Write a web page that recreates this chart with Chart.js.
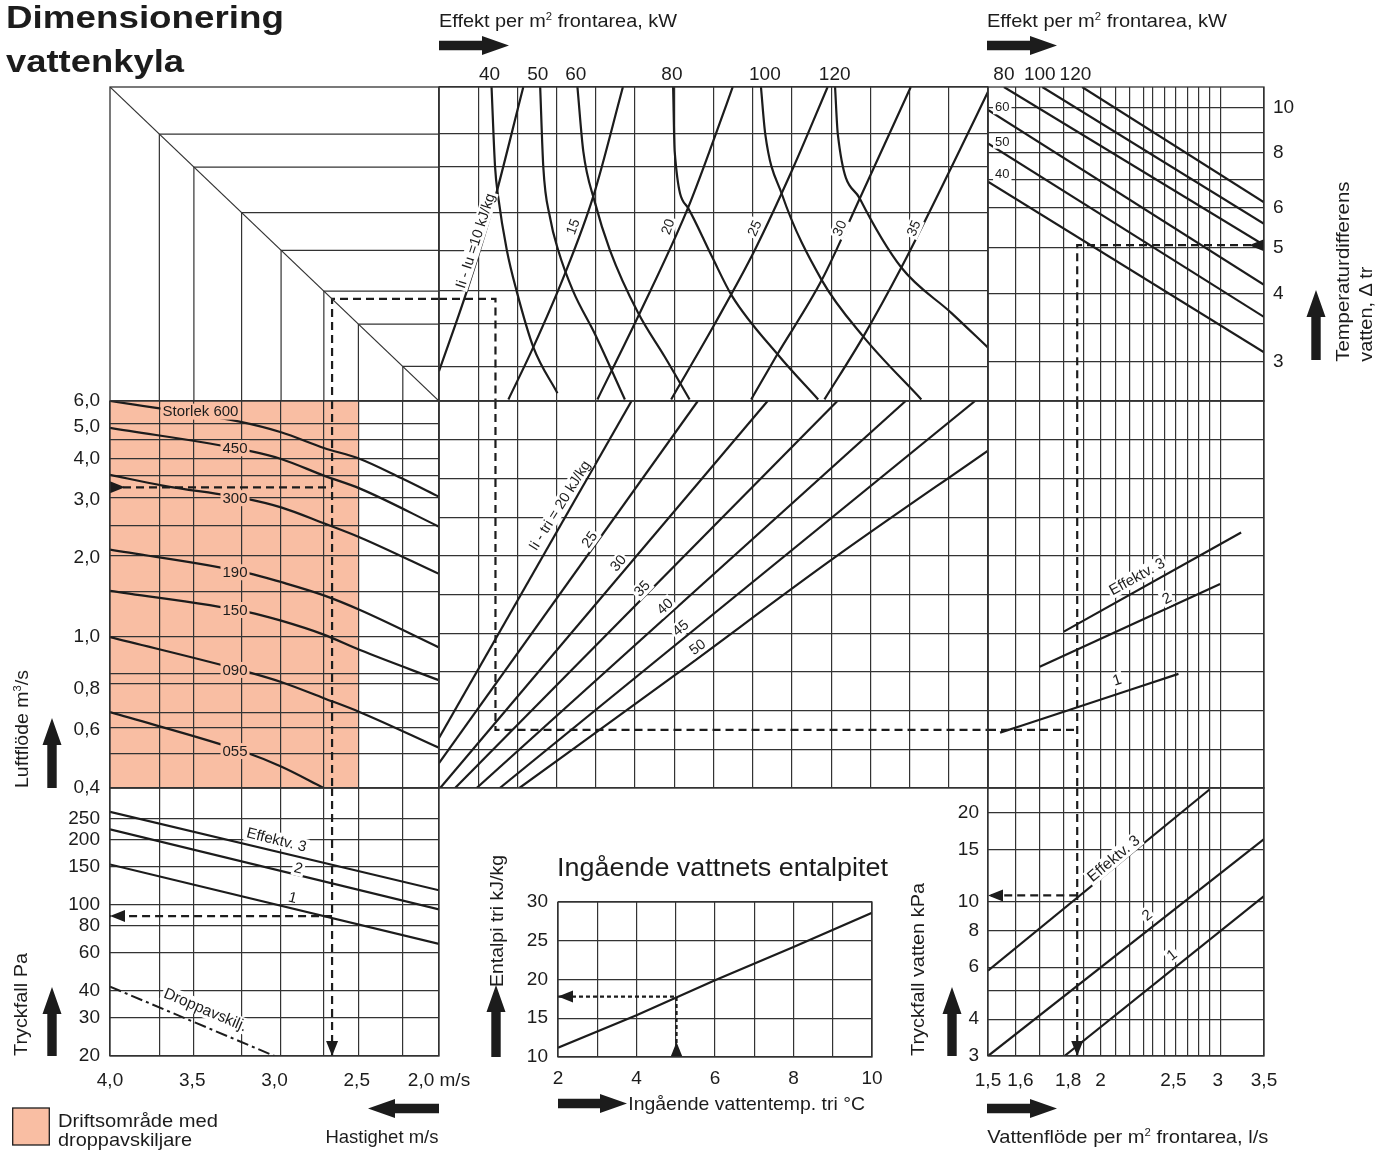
<!DOCTYPE html>
<html lang="sv">
<head>
<meta charset="utf-8">
<title>Dimensionering vattenkyla</title>
<script src="https://cdn.jsdelivr.net/npm/chart.js@4"></script>
<style>
  html, body { margin: 0; padding: 0; background: #fff; }
  #page { position: relative; width: 1387px; height: 1151px; overflow: hidden; }
  #page canvas, #page svg { position: absolute; }
</style>
</head>
<body>
<div id="page"></div>
<script>
const INK = '#1c1c1c';
const GRID = '#333333';
const SALMON = '#f9bea3';
const FONT = "'Liberation Sans', Arial, Helvetica, sans-serif";
const TICK_FONT = { family: FONT, size: 19 };
Chart.defaults.font.family = FONT;
Chart.defaults.color = INK;

// ---- values ----

// velocity m/s: left column, and (through the 45 degree triangle) the top band
const velocityGrid = [4.0, 3.70, 3.49, 3.20, 2.96, 2.70, 2.49, 2.22, 2.0];
const velocityTicks = [4.0, 3.5, 3.0, 2.5, 2.0];
const velocityLabels = ['4,0', '3,5', '3,0', '2,5', '2,0 m/s'];

// air flow m3/s per unit size
const airFlowGrid = [0.4, 0.51, 0.61, 0.68, 0.83, 0.89, 1.15, 1.58, 2.03, 2.51, 3.06, 3.56, 4.0, 4.58, 5.11, 6.0];
const airFlowTicks = [0.4, 0.6, 0.8, 1.15, 2.0, 3.0, 4.0, 5.0, 6.0]; // printed "1,0" sits on the 1.15 line
const airFlowLabels = ['0,4', '0,6', '0,8', '1,0', '2,0', '3,0', '4,0', '5,0', '6,0'];
const operatingRange = [4.0, 2.49]; // shaded: Driftsområde med droppavskiljare

const size600 = [[4.0, 6.0], [3.22, 5.2], [2.96, 4.82], [2.70, 4.32], [2.48, 4.0], [2.23, 3.5], [2.0, 3.07]];
const size450 = [[4.0, 4.97], [3.16, 4.24], [2.96, 4.0], [2.70, 3.56], [2.48, 3.25], [2.0, 2.49]];
const size300 = [[4.0, 3.58], [3.68, 3.32], [3.16, 3.02], [2.96, 2.85], [2.70, 2.55], [2.48, 2.31], [2.0, 1.79]];
const size190 = [[4.0, 2.12], [3.16, 1.80], [2.96, 1.69], [2.70, 1.54], [2.48, 1.39], [2.0, 1.07]];
const size150 = [[4.0, 1.59], [3.16, 1.37], [2.96, 1.29], [2.70, 1.17], [2.48, 1.05], [2.0, 0.85]];
const size090 = [[4.0, 1.15], [3.16, 0.90], [2.96, 0.84], [2.70, 0.75], [2.48, 0.68], [2.0, 0.53]];
const size055 = [[4.0, 0.68], [3.16, 0.51], [2.96, 0.465], [2.70, 0.40]];
const sizeNames = ['Storlek 600', '450', '300', '190', '150', '090', '055'];
const sizeLabelAt = [[3.45, 5.57], [3.24, 4.31], [3.24, 3.04], [3.24, 1.81], [3.24, 1.39], [3.24, 0.914], [3.24, 0.518]];

// air side pressure drop Pa
const airDropGrid = [20, 30, 40, 60, 80, 100, 150, 200, 250];
const airDropRow3 = [[4.0, 270], [2.0, 117]];
const airDropRow2 = [[4.0, 224], [2.0, 95.5]];
const airDropRow1 = [[4.0, 154], [2.0, 66]];
const separatorDrop = [[4.0, 41.9], [3.0, 20]];

// centre column, grid columns 0..14
const columnGrid = [0, 1, 2, 3, 4, 5, 6, 7, 8, 9, 10, 11, 12, 13, 14];
const effektTicks = [1.29, 2.52, 3.49, 5.94, 8.31, 10.09];
const effektLabels = ['40', '50', '60', '80', '100', '120'];
const kw40 = [[1.34, 4.0], [1.43, 3.49], [1.51, 3.30], [1.73, 2.96], [1.98, 2.70], [2.41, 2.34], [3.02, 2.05]];
const kw50 = [[2.58, 4.0], [2.66, 3.49], [2.83, 3.17], [3.04, 2.96], [3.42, 2.70], [3.97, 2.43], [4.74, 2.01]];
const kw60 = [[3.53, 4.0], [3.68, 3.59], [3.97, 3.27], [4.36, 2.96], [5.08, 2.56], [5.76, 2.28], [6.39, 2.01]];
const kw80 = [[5.97, 4.0], [6.01, 3.59], [6.35, 3.23], [6.96, 2.92], [7.47, 2.67], [8.66, 2.29], [9.67, 2.01]];
const kw100 = [[8.21, 4.0], [8.32, 3.70], [8.74, 3.32], [9.76, 2.77], [10.82, 2.41], [12.30, 2.01]];
const kw120 = [[10.10, 4.0], [10.17, 3.70], [10.73, 3.29], [11.79, 2.85], [13.07, 2.56], [14.0, 2.34]];
const dIu10 = [[0.0, 2.19], [0.71, 2.70], [1.34, 3.21], [2.15, 4.0]];
const dIu15 = [[1.77, 2.01], [2.40, 2.34], [3.21, 2.81], [3.93, 3.30], [4.69, 4.0]];
const dIu20 = [[4.04, 2.01], [5.12, 2.56], [6.35, 3.23], [7.03, 3.68], [7.49, 4.0]];
const dIu25 = [[5.92, 2.01], [7.03, 2.49], [8.05, 2.96], [9.04, 3.49], [9.91, 4.0]];
const dIu30 = [[7.96, 2.01], [8.61, 2.29], [9.76, 2.77], [10.73, 3.29], [12.03, 4.0]];
const dIu35 = [[9.83, 2.01], [10.82, 2.41], [11.79, 2.85], [13.07, 3.49], [14.0, 3.97]];
const dIuNames = ['Ii - Iu =10 kJ/kg', '15', '20', '25', '30', '35'];
const dIuLabelAt = [[0.93, 3.02], [3.42, 3.11], [5.84, 3.11], [8.05, 3.10], [10.22, 3.10], [12.11, 3.10]];

// centre column, grid rows 0..10
const rowGrid = [0, 1, 2, 3, 4, 5, 6, 7, 8, 9, 10];
const dTri20 = [[0, 1.29], [4.91, 10]];
const dTri25 = [[0, 0.64], [6.60, 10]];
const dTri30 = [[0.03, 0], [8.38, 10]];
const dTri35 = [[0.41, 0], [10.16, 10]];
const dTri40 = [[0.96, 0], [11.90, 10]];
const dTri45 = [[1.55, 0], [13.67, 10]];
const dTri50 = [[2.05, 0], [6.05, 2.94], [10.04, 5.92], [14, 8.72]];
const dTriNames = ['Ii - tri = 20 kJ/kg', '25', '30', '35', '40', '45', '50'];
const dTriLabelAt = [[3.08, 7.30], [3.84, 6.42], [4.57, 5.81], [5.18, 5.15], [5.76, 4.69], [6.16, 4.13], [6.59, 3.64]];
const dTriLabelRot = [-58, -54, -50, -46, -42, -40, -37];

// right column: water flow l/s per m2
const waterFlowGrid = [1.5, 1.6, 1.7, 1.81, 1.91, 2.0, 2.09, 2.18, 2.27, 2.34, 2.43, 2.52, 2.62, 2.72, 2.83, 2.95, 3.5];
// where the printed flow labels sit (1,6 / 1,8 / 3 are set a little off their lines in the source)
const waterFlowTicks = [1.5, 1.62, 1.83, 2, 2.5, 2.92, 3.5];
const waterFlowLabels = ['1,5', '1,6', '1,8', '2', '2,5', '3', '3,5'];

// temperature difference, water
const deltaTGrid = [2.86, 3.45, 4, 5, 6.1, 7, 8, 8.83, 10];
const deltaTTicks = [2.86, 4, 5, 6.1, 8, 10];
const deltaTLabels = ['3', '4', '5', '6', '8', '10'];
const kwLine40 = [[1.5, 6.93], [3.5, 2.99]];
const kwLine50 = [[1.5, 8.37], [3.5, 3.56]];
const kwLine60 = [[1.5, 9.87], [3.5, 4.17]];
const kwLine80 = [[1.557, 11.05], [3.5, 5.07]];
const kwLine100 = [[1.711, 11.05], [3.5, 5.63]];
const kwLine120 = [[1.900, 11.05], [3.5, 6.26]];
const kwTopTicks = [1.557, 1.70, 1.866];
const kwTopLabels = ['80', '100', '120'];
const kwSideNames = ['60', '50', '40'];
const kwSideAt = [[1.551, 10.0], [1.551, 8.44], [1.551, 7.2]];

// right column, grid rows 0..10
const rowEff3 = [[1.809, 4.04], [3.19, 6.60]];
const rowEff2 = [[1.70, 3.13], [2.944, 5.27]];
const rowEff1 = [[1.543, 1.43], [1.809, 1.97], [2.542, 2.95]];

// water side pressure drop kPa
const waterDropGrid = [3, 4, 5, 6, 8, 10, 15, 20];
const waterDropTicks = [3, 4, 6, 8, 10, 15, 20];
const waterDropLabels = ['3', '4', '6', '8', '10', '15', '20'];
const waterDrop3 = [[1.5, 5.84], [2.832, 24.0]];
const waterDrop2 = [[1.5, 3.0], [3.5, 16.3]];
const waterDrop1 = [[1.812, 3.0], [3.5, 10.45]];

// inlet water enthalpy
const inletTemp = [2, 4, 6, 8, 10];
const inletEnthalpy = [11.2, 15.4, 19.9, 24.2, 28.6];

// the worked example (dashed path)
const exAirFlow = 3.28, exVelocity = 2.65, exAirDrop = 88.9;
const exColumn = 1.44, exRow = 1.5;
const exWaterFlow = 1.875, exDeltaT = 5.07, exWaterDrop = 10.5;
const exTemp = 5.02, exEnthalpy = 17.8;

// ---- helpers ----
const page = document.getElementById('page');
const id = v => v;
const flowPos = q => Math.pow(q, -0.7); // printed flow axis is squeezed roughly like q^-0.7

// force an axis box to a fixed size and drop the label overhang padding
const fitTo = size => s => {
  if (s.isHorizontal()) s.height = size; else s.width = size;
  s.paddingLeft = s.paddingRight = s.paddingTop = s.paddingBottom = 0;
};

function gridAxis(position, type, min, max, values, reverse = false) {
  return {
    type, position, min, max, reverse, bounds: 'data',
    afterBuildTicks: s => { s.ticks = values.map(value => ({ value })); },
    afterFit: fitTo(0),
    ticks: { display: false, autoSkip: false },
    grid: { color: GRID, lineWidth: 1.2, drawTicks: false },
    border: { display: false },
  };
}

function tickAxis(position, type, min, max, values, labels, padding, size, reverse = false) {
  return {
    type, position, min, max, reverse, bounds: 'data', fitSize: size,
    afterBuildTicks: s => { s.ticks = values.map(value => ({ value })); },
    afterFit: fitTo(size),
    grid: { display: false, drawTicks: false },
    border: { display: false },
    ticks: {
      autoSkip: false, padding, maxRotation: 0, minRotation: 0, color: INK, font: TICK_FONT,
      callback: (v, i) => labels[i],
    },
  };
}

function series(points, fx, style) {
  return Object.assign({
    data: points.map(([a, b]) => ({ x: fx(a), y: b })),
    borderColor: INK, borderWidth: 2.2, pointRadius: 0, fill: false, tension: 0,
  }, style);
}
const SMOOTH = { cubicInterpolationMode: 'monotone' };
const THIN = { borderColor: GRID, borderWidth: 1.2 };
const DASH = { borderDash: [8, 5] };

const tag = (at, text, fx, extra) => Object.assign({ x: fx(at[0]), y: at[1], text, size: 14.5, bg: '#fff' }, extra);

const frame = {
  id: 'frame',
  afterDraw(chart) {
    const { ctx, chartArea: a } = chart;
    ctx.save();
    ctx.strokeStyle = GRID;
    ctx.lineWidth = 1.3;
    ctx.strokeRect(a.left, a.top, a.right - a.left, a.bottom - a.top);
    ctx.restore();
  }
};

const arrowHeads = {
  id: 'arrowHeads',
  afterDatasetsDraw(chart) {
    const ctx = chart.ctx;
    chart.data.datasets.forEach((ds, i) => {
      if (!ds.arrows) return;
      const pts = chart.getDatasetMeta(i).data;
      ds.arrows.forEach(kind => {
        const a = kind === 'end' ? pts[pts.length - 2] : pts[0];
        const b = kind === 'end' ? pts[pts.length - 1] : pts[1];
        const len = Math.hypot(b.x - a.x, b.y - a.y);
        const ux = (b.x - a.x) / len, uy = (b.y - a.y) / len;
        const L = 15, W = 6;
        const tx = kind === 'end' ? b.x : a.x + ux * L;
        const ty = kind === 'end' ? b.y : a.y + uy * L;
        const bx = tx - ux * L, by = ty - uy * L;
        ctx.save();
        ctx.fillStyle = INK;
        ctx.beginPath();
        ctx.moveTo(tx, ty);
        ctx.lineTo(bx - uy * W, by + ux * W);
        ctx.lineTo(bx + uy * W, by - ux * W);
        ctx.closePath();
        ctx.fill();
        ctx.restore();
      });
    });
  }
};

function tagLayer(items) {
  return {
    id: 'tags',
    afterDatasetsDraw(chart) {
      const { ctx, scales } = chart;
      items.forEach(t => {
        const x = scales.x.getPixelForValue(t.x), y = scales.y.getPixelForValue(t.y);
        ctx.save();
        ctx.translate(x, y);
        ctx.rotate((t.rot || 0) * Math.PI / 180);
        ctx.font = `${t.size}px ${FONT}`;
        const w = ctx.measureText(t.text).width, h = t.size + 1;
        if (t.bg) { ctx.fillStyle = t.bg; ctx.fillRect(-w / 2 - 2, -h / 2, w + 4, h); }
        ctx.fillStyle = INK;
        ctx.textAlign = 'center';
        ctx.textBaseline = 'middle';
        ctx.fillText(t.text, 0, 0.5);
        ctx.restore();
      });
    }
  };
}

function bandLayer(band) {
  return {
    id: 'band',
    beforeDraw(chart) {
      if (!band) return;
      const { ctx, chartArea: a, scales } = chart;
      const x0 = scales.x.getPixelForValue(band[0]), x1 = scales.x.getPixelForValue(band[1]);
      ctx.save();
      ctx.fillStyle = SALMON;
      ctx.fillRect(Math.min(x0, x1), a.top, Math.abs(x1 - x0), a.bottom - a.top);
      ctx.restore();
    }
  };
}

function panel(box, m, scales, datasets, tags = [], band = null) {
  // label axes take their own margin; the rest of each margin is plain padding
  const used = { left: 0, right: 0, top: 0, bottom: 0 };
  Object.values(scales).forEach(s => { if (s.fitSize) used[s.position] += s.fitSize; });
  const c = document.createElement('canvas');
  c.width = box.w + m.l + m.r;
  c.height = box.h + m.t + m.b;
  c.style.left = (box.x - m.l) + 'px';
  c.style.top = (box.y - m.t) + 'px';
  page.appendChild(c);
  return new Chart(c, {
    type: 'line',
    data: { datasets },
    options: {
      responsive: false, animation: false, devicePixelRatio: 1, events: [],
      layout: {
        autoPadding: false,
        padding: { left: m.l - used.left, right: m.r - used.right, top: m.t - used.top, bottom: m.b - used.bottom },
      },
      plugins: { legend: { display: false }, tooltip: { enabled: false } },
      scales,
    },
    plugins: [bandLayer(band), frame, arrowHeads, tagLayer(tags)],
  });
}

const X0 = 110, X1 = 439, X2 = 988, X3 = 1264;
const Y0 = 87, Y1 = 401, Y2 = 788, Y3 = 1056;
const box = (x0, y0, x1, y1) => ({ x: x0, y: y0, w: x1 - x0, h: y1 - y0 });
const pad = (l, r, t, b) => ({ l, r, t, b });

const velocityX = () => gridAxis('bottom', 'linear', 2, 4, velocityGrid, true);
const flowX = () => gridAxis('bottom', 'linear', flowPos(3.5), flowPos(1.5), waterFlowGrid.map(flowPos), true);

// ---- top left: velocity triangle ----
const inner = velocityGrid.slice(1, -1);
panel(box(X0, Y0, X1, Y1), pad(4, 4, 4, 4), {
  x: gridAxis('bottom', 'linear', 2, 4, [], true),
  y: gridAxis('left', 'linear', 2, 4, []),
}, [
  series([[4, 4], [2, 2]], id, THIN),
  ...inner.map(g => series([[g, g], [g, 2]], id, THIN)),
  ...inner.map(g => series([[g, g], [2, g]], id, THIN)),
  series([[2, exVelocity], [exVelocity, exVelocity], [exVelocity, 2]], id, DASH),
]);

// ---- left middle: air flow per unit size ----
panel(box(X0, Y1, X1, Y2), pad(64, 4, 16, 16), {
  x: velocityX(),
  y: gridAxis('left', 'logarithmic', 0.4, 6, airFlowGrid),
  yl: tickAxis('left', 'logarithmic', 0.4, 6, airFlowTicks, airFlowLabels, 10, 64),
}, [
  ...[size600, size450, size300, size190, size150, size090, size055].map(c => series(c, id, SMOOTH)),
  series([[exVelocity, 6], [exVelocity, 0.4]], id, DASH),
  series([[4.0, exAirFlow], [exVelocity, exAirFlow]], id, Object.assign({ arrows: ['start'] }, DASH)),
], sizeNames.map((n, i) => tag(sizeLabelAt[i], n, id, { size: 15, bg: SALMON })), operatingRange);

// ---- left bottom: air side pressure drop ----
panel(box(X0, Y2, X1, Y3), pad(64, 40, 4, 40), {
  x: velocityX(),
  y: gridAxis('left', 'logarithmic', 20, 348, airDropGrid),
  yl: tickAxis('left', 'logarithmic', 20, 348, airDropGrid, airDropGrid.map(String), 10, 64),
  xl: tickAxis('bottom', 'linear', 2, 4, velocityTicks, velocityLabels, 13, 40, true),
}, [
  series(airDropRow3, id),
  series(airDropRow2, id),
  series(airDropRow1, id),
  series(separatorDrop, id, { borderDash: [12, 4, 3, 4], borderWidth: 2 }),
  series([[exVelocity, 348], [exVelocity, 20]], id, Object.assign({ arrows: ['end'] }, DASH)),
  series([[exVelocity, exAirDrop], [4.0, exAirDrop]], id, Object.assign({ arrows: ['end'] }, DASH)),
], [
  tag([2.987, 200], 'Effektv. 3', id, { size: 15, rot: 14 }),
  tag([2.855, 148], '2', id, { size: 15, rot: 14 }),
  tag([2.889, 108], '1', id, { size: 15, rot: 14, bg: null }),
  tag([3.42, 32.7], 'Droppavskilj.', id, { size: 15.5, rot: 23 }),
]);

// ---- centre top: Effekt curves ----
panel(box(X1, Y0, X2, Y1), pad(4, 4, 32, 4), {
  x: gridAxis('bottom', 'linear', 0, 14, columnGrid),
  y: gridAxis('left', 'linear', 2, 4, velocityGrid),
  xt: tickAxis('top', 'linear', 0, 14, effektTicks, effektLabels, 1, 32),
}, [
  ...[kw40, kw50, kw60, kw80, kw100, kw120].map(c => series(c, id, SMOOTH)),
  ...[dIu10, dIu15, dIu20, dIu25, dIu30, dIu35].map(c => series(c, id, SMOOTH)),
  series([[0, exVelocity], [exColumn, exVelocity], [exColumn, 2]], id, DASH),
], dIuNames.map((n, i) => tag(dIuLabelAt[i], n, id, { rot: i === 0 ? -72 : (i < 3 ? -70 : -66), size: i === 0 ? 14.5 : 14 })));

// ---- centre middle: Ii - tri lines ----
panel(box(X1, Y1, X2, Y2), pad(4, 4, 4, 4), {
  x: gridAxis('bottom', 'linear', 0, 14, columnGrid),
  y: gridAxis('left', 'linear', 0, 10, rowGrid),
}, [
  ...[dTri20, dTri25, dTri30, dTri35, dTri40, dTri45].map(c => series(c, id)),
  series(dTri50, id, SMOOTH),
  series([[exColumn, 10], [exColumn, exRow], [14, exRow]], id, DASH),
], dTriNames.map((n, i) => tag(dTriLabelAt[i], n, id, { rot: dTriLabelRot[i] })));

// ---- right top: temperature difference ----
panel(box(X2, Y0, X3, Y1), pad(4, 44, 32, 4), {
  x: flowX(),
  y: gridAxis('left', 'logarithmic', 2.353, 11.05, deltaTGrid),
  yr: tickAxis('right', 'logarithmic', 2.353, 11.05, deltaTTicks, deltaTLabels, 9, 44),
  xt: tickAxis('top', 'linear', flowPos(3.5), flowPos(1.5), kwTopTicks.map(flowPos), kwTopLabels, 1, 32, true),
}, [
  ...[kwLine40, kwLine50, kwLine60, kwLine80, kwLine100, kwLine120].map(c => series(c, flowPos)),
  series([[3.5, exDeltaT], [exWaterFlow, exDeltaT], [exWaterFlow, 2.353]], flowPos, Object.assign({ arrows: ['start'] }, DASH)),
], kwSideNames.map((n, i) => tag(kwSideAt[i], n, flowPos, { size: 13 })));

// ---- right middle: Effektv. rows ----
panel(box(X2, Y1, X3, Y2), pad(4, 4, 4, 4), {
  x: flowX(),
  y: gridAxis('left', 'linear', 0, 10, rowGrid),
}, [
  series(rowEff3, flowPos),
  series(rowEff2, flowPos),
  series(rowEff1, flowPos, SMOOTH),
  series([[1.5, exRow], [exWaterFlow, exRow]], flowPos, DASH),
  series([[exWaterFlow, 10], [exWaterFlow, 0]], flowPos, DASH),
], [
  tag([2.227, 5.46], 'Effektv. 3', flowPos, { size: 15, rot: -29 }),
  tag([2.447, 4.90], '2', flowPos, { size: 15, rot: -27 }),
  tag([2.098, 2.79], '1', flowPos, { size: 15, rot: -18 }),
]);

// ---- right bottom: water side pressure drop ----
panel(box(X2, Y2, X3, Y3), pad(44, 20, 4, 40), {
  x: flowX(),
  y: gridAxis('left', 'logarithmic', 3, 24.28, waterDropGrid),
  yl: tickAxis('left', 'logarithmic', 3, 24.28, waterDropTicks, waterDropLabels, 9, 44),
  xl: tickAxis('bottom', 'linear', flowPos(3.5), flowPos(1.5), waterFlowTicks.map(flowPos), waterFlowLabels, 13, 40, true),
}, [
  series(waterDrop3, flowPos),
  series(waterDrop2, flowPos),
  series(waterDrop1, flowPos),
  series([[exWaterFlow, 24.28], [exWaterFlow, 3]], flowPos, Object.assign({ arrows: ['end'] }, DASH)),
  series([[exWaterFlow, exWaterDrop], [1.5, exWaterDrop]], flowPos, Object.assign({ arrows: ['end'] }, DASH)),
], [
  tag([2.077, 14.0], 'Effektv. 3', flowPos, { size: 15.5, rot: -40 }),
  tag([2.297, 9.0], '2', flowPos, { size: 15, rot: -38 }),
  tag([2.487, 6.6], '1', flowPos, { size: 15, rot: -38 }),
]);

// ---- inlet water enthalpy ----
panel({ x: 558, y: 902, w: 314, h: 155 }, pad(48, 20, 16, 36), {
  x: gridAxis('bottom', 'linear', 2, 10, [2, 3, 4, 5, 6, 7, 8, 9, 10]),
  y: gridAxis('left', 'linear', 10, 30, [10, 15, 20, 25, 30]),
  xl: tickAxis('bottom', 'linear', 2, 10, [2, 4, 6, 8, 10], ['2', '4', '6', '8', '10'], 10, 36),
  yl: tickAxis('left', 'linear', 10, 30, [10, 15, 20, 25, 30], ['10', '15', '20', '25', '30'], 10, 48),
}, [
  series(inletTemp.map((t, i) => [t, inletEnthalpy[i]]), id),
  series([[exTemp, 10], [exTemp, exEnthalpy], [2, exEnthalpy]], id, { borderDash: [4, 3], arrows: ['start', 'end'] }),
]);

// ---- titles, axis names and the big direction arrows ----
function bigArrow([x0, y0, x1, y1]) {
  const L = Math.hypot(x1 - x0, y1 - y0), ux = (x1 - x0) / L, uy = (y1 - y0) / L;
  const head = 27, hw = 9.5, sw = 4.7;
  const hx = x1 - ux * head, hy = y1 - uy * head;
  const p = (x, y, n) => [x - uy * n, y + ux * n];
  const pts = [p(x0, y0, sw), p(hx, hy, sw), p(hx, hy, hw), [x1, y1], p(hx, hy, -hw), p(hx, hy, -sw), p(x0, y0, -sw)];
  return `<polygon points="${pts.map(q => q.map(v => v.toFixed(1)).join(',')).join(' ')}"/>`;
}
const arrowsDeco = [
  [439, 45.5, 509, 45.5], [987, 45.5, 1057, 45.5],
  [52, 788, 52, 718], [52, 1056, 52, 987], [496, 1057, 496, 985], [952, 1056, 952, 987], [1316, 360, 1316, 290],
  [439, 1108.5, 368, 1108.5], [558, 1103.5, 627, 1103.5], [987, 1108.5, 1057, 1108.5],
];
const sup = s => `<tspan dy="-7" font-size="10.5">${s}</tspan><tspan dy="7">`;
const texts = [
  `<text transform="translate(6,27.5)" font-size="31" font-weight="bold" textLength="278" lengthAdjust="spacingAndGlyphs">Dimensionering</text>`,
  `<text transform="translate(6,71.5)" font-size="31" font-weight="bold" textLength="178" lengthAdjust="spacingAndGlyphs">vattenkyla</text>`,
  `<text x="439" y="26.5" textLength="238" lengthAdjust="spacingAndGlyphs">Effekt per m${sup('2')} frontarea, kW</tspan></text>`,
  `<text x="987" y="26.5" textLength="240" lengthAdjust="spacingAndGlyphs">Effekt per m${sup('2')} frontarea, kW</tspan></text>`,
  `<text transform="translate(1349,361.7) rotate(-90)" textLength="180" lengthAdjust="spacingAndGlyphs">Temperaturdifferens</text>`,
  `<text transform="translate(1372,361.7) rotate(-90)" textLength="95" lengthAdjust="spacingAndGlyphs">vatten, Δ tr</text>`,
  `<text transform="translate(27.5,788) rotate(-90)" textLength="118" lengthAdjust="spacingAndGlyphs">Luftflöde m${sup('3')}/s</tspan></text>`,
  `<text transform="translate(26.8,1056) rotate(-90)" textLength="103" lengthAdjust="spacingAndGlyphs">Tryckfall Pa</text>`,
  `<text transform="translate(502.5,987) rotate(-90)" textLength="132" lengthAdjust="spacingAndGlyphs">Entalpi tri kJ/kg</text>`,
  `<text transform="translate(924,1056) rotate(-90)" textLength="173" lengthAdjust="spacingAndGlyphs">Tryckfall vatten kPa</text>`,
  `<text x="438.5" y="1143" text-anchor="end">Hastighet m/s</text>`,
  `<text x="58" y="1126.5" textLength="160" lengthAdjust="spacingAndGlyphs">Driftsområde med</text>`,
  `<text x="58" y="1145.5" textLength="134" lengthAdjust="spacingAndGlyphs">droppavskiljare</text>`,
  `<text x="557" y="876" font-size="26" textLength="331" lengthAdjust="spacingAndGlyphs">Ingående vattnets entalpitet</text>`,
  `<text x="628.3" y="1110" textLength="236.7" lengthAdjust="spacingAndGlyphs">Ingående vattentemp. tri °C</text>`,
  `<text x="987.3" y="1143" textLength="281" lengthAdjust="spacingAndGlyphs">Vattenflöde per m${sup('2')} frontarea, l/s</tspan></text>`,
];
page.insertAdjacentHTML('beforeend',
  `<svg width="1387" height="1151" style="left:0;top:0" font-family="${FONT}" font-size="18.5" fill="${INK}">
    <rect x="12.7" y="1108" width="36.6" height="37" fill="${SALMON}" stroke="${INK}" stroke-width="1.3"/>
    ${arrowsDeco.map(bigArrow).join('')}
    ${texts.join('')}
  </svg>`);
</script>
</body>
</html>
